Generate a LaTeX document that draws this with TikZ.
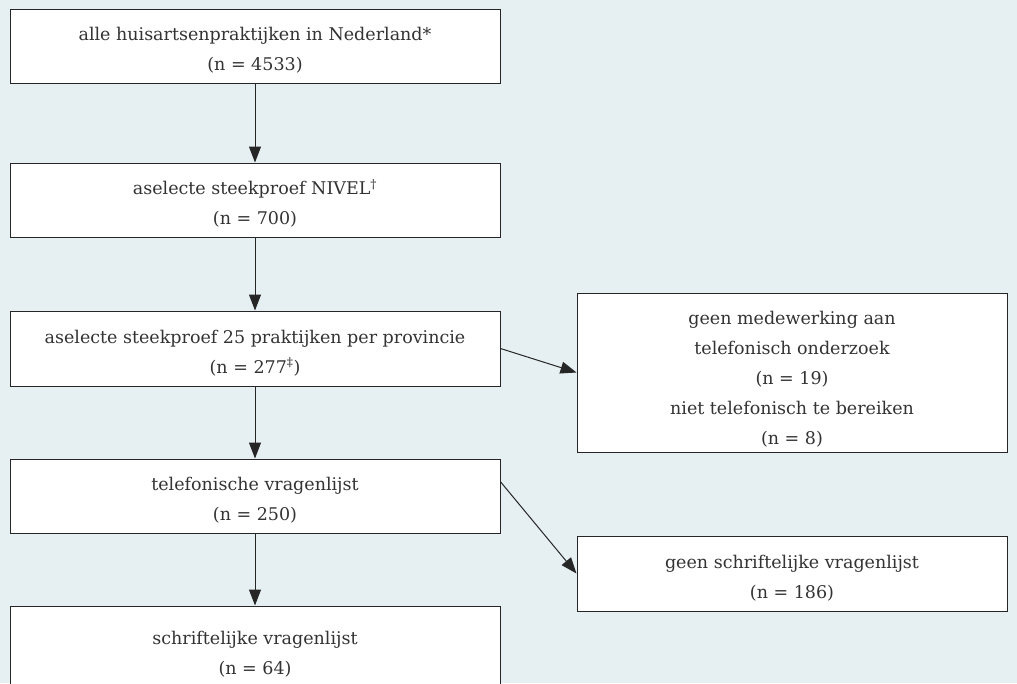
\documentclass[tikz,border=0pt]{standalone}
\usepackage{fontspec}
\setmainfont{DejaVu Serif}
\usetikzlibrary{arrows.meta,calc}
\definecolor{bg}{HTML}{E6EFF2}
\definecolor{txt}{HTML}{333333}
\newcommand{\tpstrut}{\rule{0pt}{22pt}}
\tikzset{
  box/.style={draw=black!85, fill=white, line width=1pt, inner sep=0pt, align=center,
    text=txt, font=\fontsize{17.5}{30}\selectfont},
  arr/.style={draw=black!85, line width=1pt, -{Triangle[length=16pt,width=12pt]}}
}
\begin{document}
\begin{tikzpicture}[x=1pt,y=-1pt]
\clip (0,0) rectangle (1017,683);
\fill[bg] (0,0) rectangle (1017,683);
\node[box, minimum width=490pt, minimum height=74pt] (b1) at (255,46) {\tpstrut alle huisartsenpraktijken in Nederland*\\(n = 4533)};
\node[box, minimum width=490pt, minimum height=74pt] (b2) at (255,200) {\tpstrut aselecte steekproef NIVEL\textsuperscript{\textdagger}\\(n = 700)};
\node[box, minimum width=490pt, minimum height=75pt] (b3) at (255,348.5) {\tpstrut aselecte steekproef 25 praktijken per provincie\\(n = 277\textsuperscript{\textdaggerdbl})};
\node[box, minimum width=490pt, minimum height=74pt] (b4) at (255,496) {\tpstrut telefonische vragenlijst\\(n = 250)};
\node[box, minimum width=490pt, minimum height=88pt] (b5) at (255,650) {\tpstrut schriftelijke vragenlijst\\(n = 64)};
\node[box, minimum width=430pt, minimum height=159pt] (r1) at (792,372.5) {\rule{0pt}{27pt}geen medewerking aan\\telefonisch onderzoek\\(n = 19)\\niet telefonisch te bereiken\\(n = 8)};
\node[box, minimum width=430pt, minimum height=75pt] (r2) at (792,573.5) {\tpstrut geen schriftelijke vragenlijst\\(n = 186)};
\draw[arr] (b1) -- (b2);
\draw[arr] (b2) -- (b3);
\draw[arr] (b3) -- (b4);
\draw[arr] (b4) -- (b5);
\draw[arr] (b3.east) -- (r1.west);
\draw[arr] ($(b4.north east)!0.31!(b4.south east)$) -- (r2.west);
\end{tikzpicture}
\end{document}
